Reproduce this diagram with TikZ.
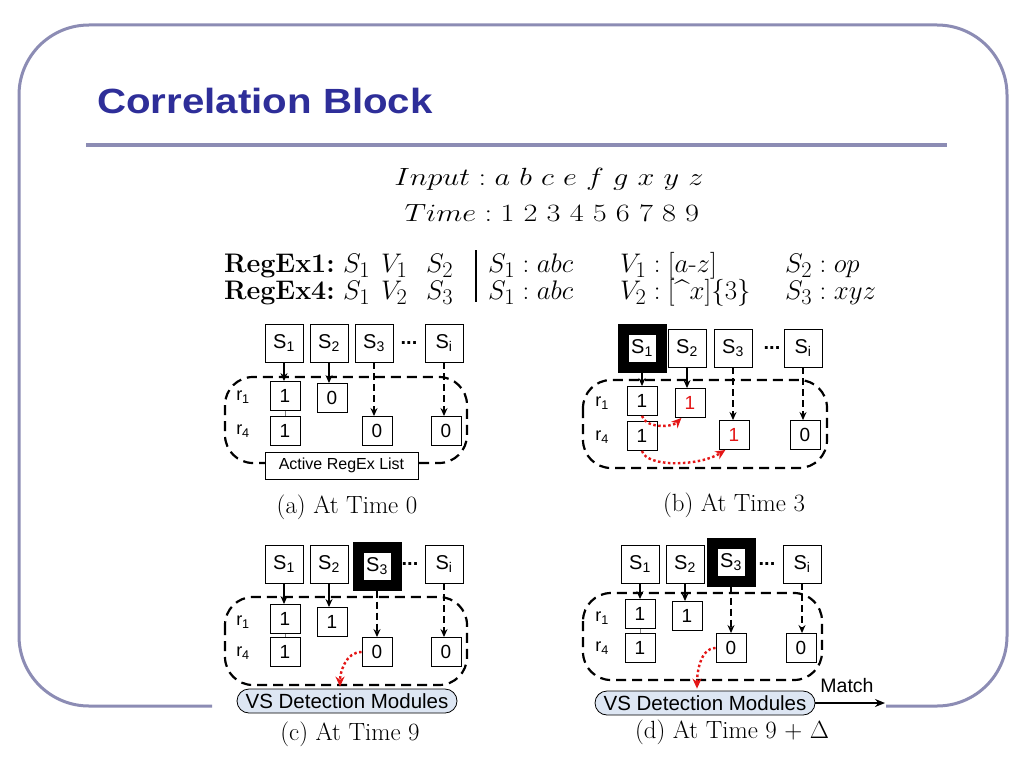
\documentclass[tikz,border=0pt]{standalone}
\usepackage{fontspec}
\newfontfamily\arialf{Liberation Sans}
\usetikzlibrary{arrows.meta}
\definecolor{framecol}{RGB}{140,140,180}
\definecolor{titleblue}{RGB}{46,46,153}
\definecolor{dotred}{RGB}{228,22,22}
\definecolor{vsfill}{RGB}{221,230,243}
\newcommand\rxsize{\fontsize{24.88}{30}\selectfont}
\begin{document}
\begin{tikzpicture}[x=1pt,y=-1pt,
  sbox/.style={draw, line width=0.9pt, minimum width=38pt, minimum height=38pt, inner sep=0pt, font=\arialf\fontsize{20}{24}\selectfont},
  hot/.style={sbox, line width=11pt},
  vbox/.style={draw, line width=0.9pt, minimum width=30pt, minimum height=29pt, inner sep=0pt, font=\arialf\fontsize{19}{23}\selectfont},
  rlab/.style={inner sep=0pt, font=\arialf\fontsize{18}{22}\selectfont},
  dotsl/.style={inner sep=0pt, font=\arialf\bfseries\fontsize{20}{24}\selectfont},
  region/.style={draw, line width=2.2pt, dash pattern=on 10pt off 6pt, rounded corners=28pt},
  feed/.style={-{Stealth[length=8pt,width=7pt]}, line width=1.1pt},
  dfeed/.style={feed, line width=1.6pt, dash pattern=on 7pt off 4pt},
  hop/.style={-{Stealth[length=10pt,width=9pt]}, draw=dotred, line width=2.4pt, dash pattern=on 2.5pt off 2.5pt},
  link/.style={draw=gray, line width=0.6pt},
  listbox/.style={draw, fill=white, line width=0.8pt, minimum width=153pt, minimum height=27pt, inner sep=0pt, font=\arialf\fontsize{16}{19}\selectfont},
  vsbox/.style={draw, fill=vsfill, line width=0.8pt, rounded corners=12pt, minimum width=220pt, minimum height=24pt, inner sep=0pt, font=\arialf\fontsize{20.5}{24}\selectfont},
  captext/.style={anchor=base, inner sep=0pt, font=\fontsize{24.88}{30}\selectfont},
  rx/.style={inner sep=0pt, scale=1.08, font=\rxsize},
  framel/.style={draw=framecol, line width=3pt}
]
\useasboundingbox (0,0) rectangle (1024,768);
\fill[white] (0,0) rectangle (1024,768);
% frame
\draw[framel, rounded corners=70pt] (212,706) -- (19,706) -- (19,25) -- (1007,25) -- (1007,706) -- (886,706);
\draw[draw=framecol, line width=4pt] (86,145) -- (947,145);
\node[anchor=base west, inner sep=0pt, xscale=1.15, text=titleblue, font=\arialf\bfseries\fontsize{35}{40}\selectfont] (title) at (97,113) {Correlation Block};

% input / time
\node[anchor=base, inner sep=0pt, xscale=1.22, font=\fontsize{24.88}{29}\selectfont] (input) at (549,185) {$Input : a\ b\ c\ e\ f\ g\ x\ y\ z$};
\node[anchor=base, inner sep=0pt, xscale=1.22, font=\fontsize{24.88}{29}\selectfont] (time) at (552,221) {$Time : 1\ 2\ 3\ 4\ 5\ 6\ 7\ 8\ 9$};

% regex table
\node[rx, anchor=base east] (re1) at (335,272) {\textbf{RegEx1:}};
\node[rx, anchor=base west] (re1a) at (343,272) {$S_1$};
\node[rx, anchor=base west] (re1b) at (381,272) {$V_1$};
\node[rx, anchor=base west] (re1c) at (426,272) {$S_2$};
\node[rx, anchor=base east] (re4) at (335,299) {\textbf{RegEx4:}};
\node[rx, anchor=base west] (re4a) at (343,299) {$S_1$};
\node[rx, anchor=base west] (re4b) at (381,299) {$V_2$};
\node[rx, anchor=base west] (re4c) at (426,299) {$S_3$};
\draw[line width=1.2pt] (476,250) -- (476,302);
\node[rx, anchor=base west] (d1a) at (488,272) {$S_1 : abc$};
\node[rx, anchor=base west] (d1b) at (620,272) {$V_1 : [a\mbox{-}z]$};
\node[rx, anchor=base west] (d1c) at (785,272) {$S_2 : op$};
\node[rx, anchor=base west] (d4a) at (488,299) {$S_1 : abc$};
\node[rx, anchor=base west] (d4b) at (620,299) {$V_2 : [$\^{}$x]\{3\}$};
\node[rx, anchor=base west] (d4c) at (785,299) {$S_3 : xyz$};

% ---------- panel (a)
\draw[region] (225,377) rectangle (467,463);
\node[sbox] (a-s1) at (284,343) {S\textsubscript{1}};
\node[sbox] (a-s2) at (329,343) {S\textsubscript{2}};
\node[sbox] (a-s3) at (374,343) {S\textsubscript{3}};
\node[dotsl] (a-dots) at (409,343) {...};
\node[sbox] (a-si) at (444,343) {S\textsubscript{i}};
\node[rlab] (a-r1) at (243,397) {r\textsubscript{1}};
\node[rlab] (a-r4) at (243,431) {r\textsubscript{4}};
\node[vbox] (a-v11) at (285,396) {1};
\node[vbox] (a-v12) at (332,398) {0};
\node[vbox] (a-v21) at (285,431) {1};
\node[vbox] (a-v22) at (377,431) {0};
\node[vbox] (a-v23) at (446,431) {0};
\draw[link] (a-v11.south) -- (a-v21.north);
\draw[feed] (a-s1.south) -- (a-s1.south |- a-v11.north);
\draw[feed] (a-s2.south) -- (a-s2.south |- a-v12.north);
\draw[dfeed] (a-s3.south) -- (a-s3.south |- a-v22.north);
\draw[dfeed] (a-si.south) -- (a-si.south |- a-v23.north);
\node[listbox] (a-list) at (341.5,465.5) {Active RegEx List};
\node[captext] (a-cap) at (347,513) {(a) At Time 0};

% ---------- panel (b)
\draw[region] (583,380) rectangle (827,468);
\node[hot] (b-s1) at (642,348) {S\textsubscript{1}};
\node[sbox] (b-s2) at (687,348) {S\textsubscript{2}};
\node[sbox] (b-s3) at (733,348) {S\textsubscript{3}};
\node[dotsl] (b-dots) at (772,348) {...};
\node[sbox] (b-si) at (803,348) {S\textsubscript{i}};
\node[rlab] (b-r1) at (602,403) {r\textsubscript{1}};
\node[rlab] (b-r4) at (602,437) {r\textsubscript{4}};
\node[vbox] (b-v11) at (642,401) {1};
\node[vbox, text=dotred] (b-v12) at (690,403) {1};
\node[vbox] (b-v21) at (642,436) {1};
\node[vbox, text=dotred] (b-v22) at (734,435) {1};
\node[vbox] (b-v23) at (805,435) {0};
\draw[feed] (b-s1.south) -- (b-s1.south |- b-v11.north);
\draw[feed] (b-s2.south) -- (b-s2.south |- b-v12.north);
\draw[dfeed] (b-s3.south) -- (b-s3.south |- b-v22.north);
\draw[dfeed] (b-si.south) -- (b-si.south |- b-v23.north);
\draw[hop] (b-v11.south) .. controls +(3,12) and +(-10,10) .. (b-v12.240);
\draw[hop] (b-v21.south) .. controls +(5,17) and +(-25,16) .. (b-v22.240);
\node[captext] (b-cap) at (734,511) {(b) At Time 3};

% ---------- panel (c)
\draw[region] (225,597) rectangle (467,685);
\node[sbox] (c-s1) at (284,564) {S\textsubscript{1}};
\node[sbox] (c-s2) at (329,564) {S\textsubscript{2}};
\node[hot] (c-s3) at (377,566) {S\textsubscript{3}};
\node[dotsl] (c-dots) at (410,564) {...};
\node[sbox] (c-si) at (444,564) {S\textsubscript{i}};
\node[rlab] (c-r1) at (243,622) {r\textsubscript{1}};
\node[rlab] (c-r4) at (243,653) {r\textsubscript{4}};
\node[vbox] (c-v11) at (285,619) {1};
\node[vbox] (c-v12) at (332,622) {1};
\node[vbox] (c-v21) at (285,652) {1};
\node[vbox] (c-v22) at (377,652) {0};
\node[vbox] (c-v23) at (446,652) {0};
\draw[link] (c-v11.south) -- (c-v21.north);
\draw[feed] (c-s1.south) -- (c-s1.south |- c-v11.north);
\draw[feed] (c-s2.south) -- (c-s2.south |- c-v12.north);
\draw[dfeed] (c-s3.south) -- (c-s3.south |- c-v22.north);
\draw[dfeed] (c-si.south) -- (c-si.south |- c-v23.north);
\node[vsbox] (c-vs) at (347,701) {VS Detection Modules};
\draw[hop, shorten >=2pt] (c-v22.west) .. controls +(-16,0) and +(0,-16) .. ([xshift=-7pt]c-vs.north);
\node[captext] (c-cap) at (350,740) {(c) At Time 9};

% ---------- panel (d)
\draw[region] (583,593) rectangle (822,680);
\node[sbox] (d-s1) at (640,564) {S\textsubscript{1}};
\node[sbox] (d-s2) at (685,564) {S\textsubscript{2}};
\node[hot] (d-s3) at (731,562) {S\textsubscript{3}};
\node[dotsl] (d-dots) at (767,564) {...};
\node[sbox] (d-si) at (802,564) {S\textsubscript{i}};
\node[rlab] (d-r1) at (602,618) {r\textsubscript{1}};
\node[rlab] (d-r4) at (602,648) {r\textsubscript{4}};
\node[vbox] (d-v11) at (640,614) {1};
\node[vbox] (d-v12) at (687,616) {1};
\node[vbox] (d-v21) at (640,648) {1};
\node[vbox] (d-v22) at (731,648) {0};
\node[vbox] (d-v23) at (801,648) {0};
\draw[link] (d-v11.south) -- (d-v21.north);
\draw[feed] (d-s1.south) -- (d-s1.south |- d-v11.north);
\draw[feed] (d-s2.south) -- (d-s2.south |- d-v12.north);
\draw[dfeed] (d-s3.south) -- (d-s3.south |- d-v22.north);
\draw[dfeed] (d-si.south) -- (d-si.south |- d-v23.north);
\node[vsbox] (d-vs) at (705,703) {VS Detection Modules};
\draw[hop, shorten >=2pt] (d-v22.west) .. controls +(-16,0) and +(0,-16) .. ([xshift=-8pt]d-vs.north);
\coordinate (d-end) at (885,703);
\draw[-{Stealth[length=10pt,width=8pt]}, line width=1.5pt] (d-vs.east) -- (d-end);
\node[inner sep=0pt, font=\arialf\fontsize{19.5}{23}\selectfont] (d-match) at (847,686) {Match};
\node[captext] (d-cap) at (732,738) {(d) At Time 9 + $\Delta$};
\end{tikzpicture}
\end{document}
